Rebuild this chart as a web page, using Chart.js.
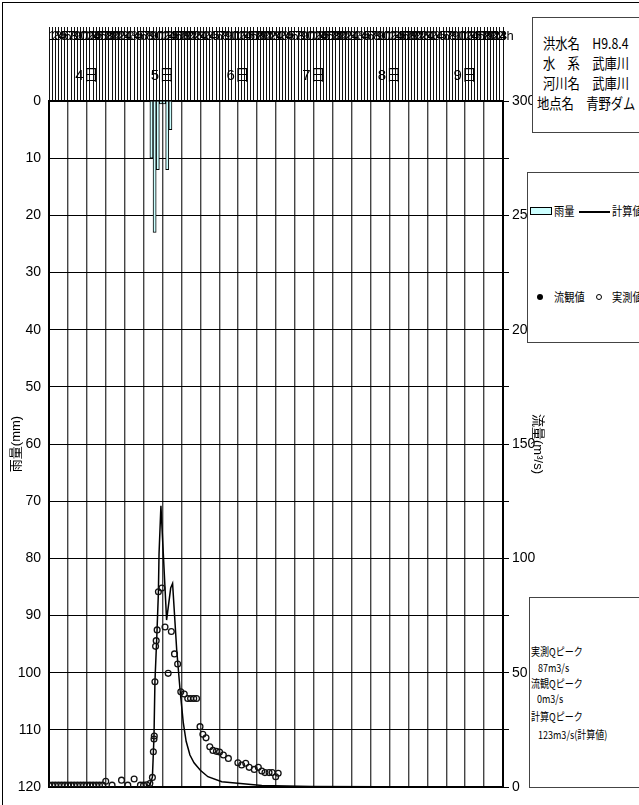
<!DOCTYPE html>
<html lang="ja">
<head>
<meta charset="utf-8">
<title>青野ダム 洪水ハイドログラフ H9.8.4</title>
<script src="https://cdn.jsdelivr.net/npm/chart.js@4/dist/chart.umd.min.js"></script>
<style>
  html, body { margin: 0; padding: 0; background: #fff; }
  body { width: 639px; height: 805px; overflow: hidden; position: relative; }
  #wrap { position: absolute; left: 0; top: 0; width: 639px; height: 805px; }
  .frame { position: absolute; left: 2px; top: 2px; width: 700px; height: 900px;
           border-left: 1px solid #000; border-top: 1px solid #000; pointer-events: none; }
  .box { position: absolute; border: 1px solid #444; background: #fff; width: 140px; }
  .t { position: absolute; white-space: nowrap; transform-origin: left center;
       font-family: "Noto Sans CJK JP", "Liberation Sans Narrow", sans-serif; color: #000; line-height: 1; }
  .info { font-size: 15px; transform: scaleX(0.82); }
  .lg { font-size: 12px; transform: scaleX(0.85); }
  .pk { font-size: 11px; transform: scaleX(0.82); }
</style>
</head>
<body>
<div id="wrap"><canvas id="c" width="639" height="805"></canvas></div>
<div class="frame"></div>

<!-- 洪水情報 -->
<div class="box" style="left:532px; top:17px; height:114px;"></div>
<div class="t info" style="left:543px; top:35px;">洪水名　H9.8.4</div>
<div class="t info" style="left:543px; top:55px;">水　系　武庫川</div>
<div class="t info" style="left:543px; top:75px;">河川名　武庫川</div>
<div class="t info" style="left:537px; top:95px;">地点名　青野ダム</div>

<!-- 凡例 -->
<div class="box" style="left:527px; top:172px; height:169px;"></div>
<div style="position:absolute; left:530px; top:207px; width:20px; height:6px; background:#ccffff; border:1.5px solid #000;"></div>
<div class="t lg" style="left:554px; top:205px;">雨量</div>
<div style="position:absolute; left:579px; top:211px; width:31px; height:2px; background:#000;"></div>
<div class="t lg" style="left:612px; top:205px;">計算値</div>
<div style="position:absolute; left:537px; top:294px; width:6px; height:6px; border-radius:50%; background:#000;"></div>
<div class="t lg" style="left:554px; top:291px;">流観値</div>
<div style="position:absolute; left:596px; top:294px; width:4px; height:4px; border-radius:50%; border:1.5px solid #000;"></div>
<div class="t lg" style="left:612px; top:291px;">実測値</div>

<!-- ピーク流量 -->
<div class="box" style="left:529px; top:597px; height:189px;"></div>
<div class="t pk" style="left:531px; top:646px;">実測Qピーク</div>
<div class="t pk" style="left:538px; top:662px;">87m3/s</div>
<div class="t pk" style="left:531px; top:678px;">流観Qピーク</div>
<div class="t pk" style="left:537px; top:693px;">0m3/s</div>
<div class="t pk" style="left:531px; top:711px;">計算Qピーク</div>
<div class="t pk" style="left:538px; top:729px;">123m3/s(計算値)</div>

<script>
// Time axis: hours counted from 8/4 0:00 over six days
const totalHours = 144;
const dayLabels = ['4日', '5日', '6日', '7日', '8日', '9日'];

// Hourly rainfall (mm), bar covers the hour starting at rainHours[i]
const rainHours = [32, 33, 34, 35, 36, 37, 38];
const rainMm    = [10, 23, 12, 0.5, 0.5, 12, 5];

// Calculated discharge (m3/s)
const calcHours = [31, 32, 32.8, 33.3, 33.6, 34.2, 34.7, 34.9, 35.5, 37.3, 38.6, 39.2, 40.5, 41.6, 42.6, 43.5, 44.7, 46.0, 48.0, 50.4, 54.8, 59.9, 67.5, 83.3, 105];
const calcFlow  = [0.3, 0.8, 4.4, 22, 46, 66, 85, 102, 123, 73, 87, 89, 60, 42, 28, 20, 14, 10.6, 7.3, 4.5, 2.3, 1.6, 0.7, 0.2, 0.1];

// Observed discharge (m3/s)
const obsHours = [0, 1, 2, 3, 4, 5, 6, 7, 8, 9, 10, 11, 12, 13, 14, 15, 16, 17, 18, 20, 23, 25, 27, 29, 30, 31, 32,
                  32.8, 33.1, 33.3, 33.4, 33.6, 33.8, 34.0, 34.3, 34.7, 35.8, 36.8, 37.8, 38.8, 39.8, 40.8, 41.8, 42.9,
                  44.0, 44.9, 45.9, 46.8, 47.9, 48.8, 49.8, 51.0, 52.0, 53.1, 54.1, 55.3, 56.9, 59.9, 61.1, 62.4, 63.5,
                  65.1, 66.4, 67.5, 68.5, 69.8, 70.8, 71.9, 72.7];
const obsFlow  = [0.8, 0.8, 0.8, 0.8, 0.8, 0.8, 0.8, 0.8, 0.8, 0.8, 0.8, 0.8, 0.8, 0.8, 0.8, 0.8, 0.8, 0.8, 2.5, 0.8, 3, 0.8, 3.5, 0.8, 0.8, 1, 1.5,
                  4.2, 15.4, 21, 22.3, 46, 61.5, 64, 68.7, 85.4, 87, 70, 49.7, 68, 58.2, 53.8, 41.6, 40.7,
                  38.7, 38.7, 38.7, 38.7, 26.4, 23.1, 21.5, 17.6, 16, 15.6, 15.3, 14, 12.5, 10.6, 9.6, 10.4, 8.6,
                  7.7, 8.6, 7.0, 6.3, 6.3, 6.3, 4.5, 6.0];

// Axis ranges
const rainMax = 120, rainStep = 10;
const flowMax = 300, flowStep = 25, flowLabelStep = 50;

const narrow = '"Liberation Sans Narrow", "Arial Narrow", "Liberation Sans", "Noto Sans CJK JP", sans-serif';

const rainData = rainHours.map((h, i) => ({ x: h + 0.5, y: rainMm[i] }));
const calcData = calcHours.map((h, i) => ({ x: h, y: calcFlow[i] }));
const obsData  = obsHours.map((h, i) => ({ x: h, y: obsFlow[i] }));

new Chart(document.getElementById('c'), {
  type: 'scatter',
  data: {
    datasets: [
      {
        type: 'bar', label: '雨量', data: rainData, xAxisID: 'x', yAxisID: 'rain',
        backgroundColor: '#ccffff', borderColor: '#000', borderWidth: 1,
        barPercentage: 1, categoryPercentage: 1, order: 3
      },
      {
        type: 'line', label: '計算値', data: calcData, xAxisID: 'x', yAxisID: 'flow',
        showLine: true, borderColor: '#000', borderWidth: 1.5, pointRadius: 0, tension: 0, fill: false, order: 2
      },
      {
        type: 'scatter', label: '実測値', data: obsData, xAxisID: 'x', yAxisID: 'flow',
        pointStyle: 'circle', pointRadius: 2.9, borderColor: '#111', borderWidth: 1.3,
        backgroundColor: 'rgba(255,255,255,0)', order: 1
      }
    ]
  },
  options: {
    responsive: false,
    animation: false,
    devicePixelRatio: 1,
    layout: { padding: { left: 2, top: 27, right: 94, bottom: 18 } },
    plugins: { legend: { display: false }, tooltip: { enabled: false } },
    scales: {
      x: {
        type: 'linear', position: 'bottom', min: 0, max: totalHours, offset: false,
        ticks: { display: false, stepSize: 6, maxTicksLimit: 200 },
        grid: { color: '#444', lineWidth: 1.4, drawTicks: false, offset: false },
        border: { display: true, color: '#000', width: 2 },
        afterFit: s => { s.height = 0; }
      },
      // hourly hatch band with hour-of-day numbers
      xHour: {
        type: 'linear', position: 'top', min: 0, max: totalHours, offset: false, weight: 1,
        ticks: {
          stepSize: 1, maxTicksLimit: 400, autoSkip: false, maxRotation: 0, minRotation: 0,
          padding: -17, color: '#000', font: { family: narrow, size: 13 },
          callback: v => v === 0 ? '' : (v === totalHours ? '24h' : String(((v - 1) % 24) + 1))
        },
        grid: { drawOnChartArea: false, tickLength: 74, color: '#111', lineWidth: 1, offset: false },
        border: { display: true, color: '#000', width: 2 },
        afterFit: s => { s.height = 74; }
      },
      // day names written inside the hatch band
      xDate: {
        type: 'linear', position: 'top', min: 0, max: totalHours, offset: false, weight: 0,
        afterBuildTicks: s => { s.ticks = dayLabels.map((_, i) => ({ value: 12 + 24 * i })); },
        ticks: {
          autoSkip: false, maxRotation: 0, mirror: true, padding: -34, color: '#000',
          font: { family: narrow, size: 15 },
          callback: v => dayLabels[Math.round((v - 12) / 24)]
        },
        grid: { display: false },
        border: { display: false },
        afterFit: s => { s.height = 0; }
      },
      rain: {
        type: 'linear', position: 'left', reverse: true, min: 0, max: rainMax,
        ticks: { stepSize: rainStep, padding: 8, color: '#000', font: { family: narrow, size: 14 } },
        grid: { color: '#000', lineWidth: 1, drawTicks: false },
        border: { display: true, color: '#000', width: 2 },
        title: { display: true, text: '雨量(mm)', color: '#000', font: { family: narrow, size: 13 }, padding: { top: 7, bottom: 0 } },
        afterFit: s => { s.width = 47; }
      },
      flow: {
        type: 'linear', position: 'right', min: 0, max: flowMax,
        ticks: {
          stepSize: flowStep, padding: 3, color: '#000', font: { family: narrow, size: 14 },
          callback: v => (v % flowLabelStep === 0 ? String(v) : '')
        },
        grid: { drawOnChartArea: false, tickLength: 6, color: '#000', lineWidth: 1 },
        border: { display: true, color: '#000', width: 2 },
        title: { display: true, text: '流量(m³/s)', color: '#000', font: { family: narrow, size: 13 }, padding: { top: 0, bottom: 0 } },
        afterFit: s => { s.width = 42; }
      }
    }
  }
});
</script>
</body>
</html>
